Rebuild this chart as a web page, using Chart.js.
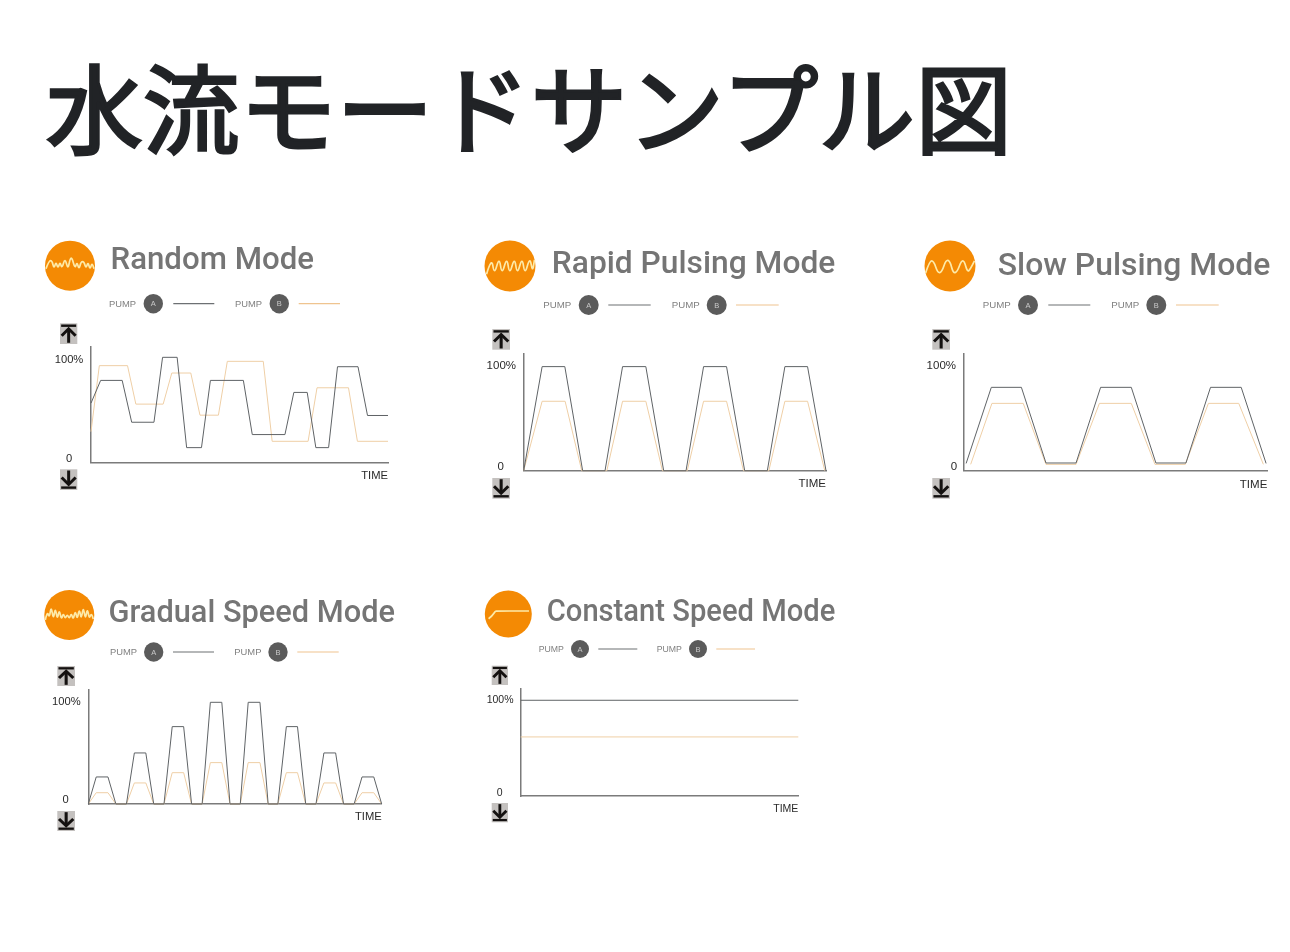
<!DOCTYPE html>
<html lang="ja">
<head>
<meta charset="utf-8">
<title>水流モードサンプル図</title>
<script src="https://cdn.jsdelivr.net/npm/chart.js@4/dist/chart.umd.min.js"></script>
<style>
html, body { margin: 0; padding: 0; background: #fff; }
body { position: relative; width: 1290px; height: 952px; overflow: hidden; }
canvas { position: absolute; }
#overlay { position: absolute; left: 0; top: 0; will-change: transform; }
</style>
</head>
<body>
<svg id="overlay" width="1290" height="952" xmlns="http://www.w3.org/2000/svg"></svg>
<script>
// values: time in % of the axis, output in %
const pageTitle = '水流モードサンプル図';
const modeNames = ['Random Mode', 'Rapid Pulsing Mode', 'Slow Pulsing Mode', 'Gradual Speed Mode', 'Constant Speed Mode'];
const pumpNames = ['PUMP A', 'PUMP B'];
const yTickValues = [0, 100];
const yTickLabels = ['0', '100%'];
const xAxisLabel = 'TIME';

const randomTimeA = [0, 3.25, 10.5, 13.7, 21.2, 24.1, 29, 32.2, 37.2, 40.2, 51.3, 54.3, 65.3, 68.3, 72.8, 75.7, 80, 83, 89.9, 93.1, 100];
const randomA = [56.5, 78.1, 78.1, 38.4, 38.4, 100, 100, 14.3, 14.3, 78.1, 78.1, 26.7, 26.7, 66.7, 66.7, 14.3, 14.3, 91.1, 91.1, 44.8, 44.8];
const randomTimeB = [0, 2.8, 12.3, 15.1, 24.3, 27.2, 33.6, 36.7, 42.9, 45.9, 58, 61, 73.1, 76.1, 86.7, 89.7, 100];
const randomB = [29.5, 92.1, 92.1, 55.6, 55.6, 85.1, 85.1, 45.1, 45.1, 96.2, 96.2, 20.3, 20.3, 71.1, 71.1, 20.3, 20.3];

const rapidTimeA = [0, 6.1, 13.6, 19.5, 26.9, 32.7, 40.4, 46.3, 53.7, 59.5, 67.1, 73.1, 80.6, 86.4, 93.9, 100];
const rapidA = [0, 100, 100, 0, 0, 100, 100, 0, 0, 100, 100, 0, 0, 100, 100, 0];
const rapidTimeB = [0, 6.1, 13.7, 19.2, 27.5, 32.7, 40.4, 45.9, 54.1, 59.5, 67.1, 72.7, 81.1, 86.4, 93.9, 99.6];
const rapidB = [0, 66.7, 66.7, 0, 0, 66.7, 66.7, 0, 0, 66.7, 66.7, 0, 0, 66.7, 66.7, 0];

const slowTimeA = [0.8, 9.1, 19, 27.1, 37, 45.1, 55.2, 63.3, 73.2, 81.3, 91.4, 99.6];
const slowA = [7, 80.1, 80.1, 7.4, 7.4, 80.1, 80.1, 7.4, 7.4, 80.1, 80.1, 7];
const slowTimeB = [2.3, 9.3, 19.6, 27.1, 37, 44.7, 55.2, 63, 73, 80.6, 90.6, 98.7];
const slowB = [6.1, 64.7, 64.7, 6.1, 6.1, 64.7, 64.7, 6.1, 6.1, 64.7, 64.7, 6.1];

const gradualTime = [0, 2.7, 6.7, 9.4, 13, 15.7, 19.6, 22.3, 25.8, 28.6, 32.5, 35.2, 38.8, 41.6, 45.5, 48.3, 51.8, 54.5, 58.5, 61.3, 64.6, 67.5, 71.3, 74.1, 77.6, 80.3, 84.3, 87, 90.6, 93.3, 97.3, 100];
const gradualA = [0, 26.6, 26.6, 0, 0, 50.2, 50.2, 0, 0, 76.1, 76.1, 0, 0, 100, 100, 0, 0, 100, 100, 0, 0, 76.1, 76.1, 0, 0, 50.2, 50.2, 0, 0, 26.6, 26.6, 0];
const gradualB = [0, 11.1, 11.1, 0, 0, 20.7, 20.7, 0, 0, 30.8, 30.8, 0, 0, 40.7, 40.7, 0, 0, 40.7, 40.7, 0, 0, 30.8, 30.8, 0, 0, 20.7, 20.7, 0, 0, 11.1, 11.1, 0];

const constantTime = [0, 100];
const constantA = [100, 100];
const constantB = [61.7, 61.7];

const colorA = '#5f6366';
const colorB = '#efcfa6';
const axisColor = '#7b7b7b';

// page layout of each panel, in px
const layouts = [
  { left: 91, right: 388, top: 347, bottom: 462.7, yMax: 109.8, font: 11.2, hundredY: 360, zero: [69, 458.7], timeY: 475.5, hundredX: 83.3,
    icon: [70, 265.7, 25], title: [110.5, 269, 203.5], legendY: 303.7, r: 9.7, legend: [[109, 153.3, 173.3, 214.3], [235, 279.3, 298.7, 340]],
    arrowX: 60, arrowW: 17.3, arrowH: 20.7, arrowUp: 323.3, arrowDown: 469.3 },
  { left: 523.7, right: 826, top: 353.3, bottom: 470.7, yMax: 112.8, font: 11.5, hundredY: 366, zero: [500.7, 466.7], timeY: 483.8, hundredX: 516,
    icon: [510, 266, 25.5], title: [551.8, 272.5, 283.5], legendY: 305, r: 10, legend: [[543.3, 588.7, 608.3, 650.7], [671.7, 716.7, 736, 778.7]],
    arrowX: 492.3, arrowW: 17.7, arrowH: 20.7, arrowUp: 329, arrowDown: 478 },
  { left: 963.7, right: 1267.3, top: 353.3, bottom: 470.7, yMax: 112.8, font: 11.5, hundredY: 366, zero: [954, 466.7], timeY: 484.5, hundredX: 956,
    icon: [950, 266, 25.5], title: [997.8, 275, 272.5], legendY: 305, r: 10, legend: [[982.7, 1028, 1048.3, 1090.3], [1111.3, 1156.3, 1176, 1218.7]],
    arrowX: 932.3, arrowW: 17.7, arrowH: 20.7, arrowUp: 329, arrowDown: 478 },
  { left: 88.3, right: 381.7, top: 690, bottom: 804, yMax: 112.1, font: 11.2, hundredY: 701.7, zero: [65.7, 800], timeY: 816.5, hundredX: 80.7,
    icon: [69.3, 615, 25], title: [108.5, 621.5, 286.5], legendY: 652, r: 9.7, legend: [[110, 153.7, 173, 214], [234.3, 278, 297.3, 338.7]],
    arrowX: 57.3, arrowW: 17.7, arrowH: 20, arrowUp: 666, arrowDown: 811 },
  { left: 520.7, right: 798.3, top: 688.3, bottom: 796, yMax: 112.5, font: 10.5, hundredY: 700, zero: [499.7, 792.8], timeY: 808.8, hundredX: 513.5,
    icon: [508.3, 614, 23.5], title: [546.8, 620.5, 288.5], legendY: 649, r: 9, legend: [[538.7, 580, 598.3, 637.3], [656.7, 698, 716.3, 755]],
    arrowX: 491.7, arrowW: 16.3, arrowH: 19.3, arrowUp: 665.7, arrowDown: 803 }
];

const seriesByPanel = [
  [randomTimeA, randomA, randomTimeB, randomB],
  [rapidTimeA, rapidA, rapidTimeB, rapidB],
  [slowTimeA, slowA, slowTimeB, slowB],
  [gradualTime, gradualA, gradualTime, gradualB],
  [constantTime, constantA, constantTime, constantB]
];

// little wave on each orange badge, relative to the centre of a 25px circle
const badgeWaves = [
  [[-24,3],[-21,-5],[-18,-5],[-16,3],[-14,-4],[-12,3],[-10,-4],[-8,3],[-5,-8],[-2,4],[0,-7],[2,-8],[5,3],[7,-4],[9,4],[11,-4],[14,-4],[16,3],[18,-4],[20,4],[22,-3],[24,3]],
  [[-23,8],[-18,-9],[-15.5,9],[-10.5,-9],[-8,9],[-3,-9],[-0.5,9],[4.5,-9],[7,9],[12,-9],[14.5,9],[19.5,-9],[22,6],[24,-6]],
  [[-24,7],[-20,-5],[-16,-5],[-12,7],[-8,6],[-4,-6],[0,-5],[3,7],[7,6],[11,-5],[14,-5],[17,6],[20,3],[24,-5]],
  [[-24,5],[-22,-4],[-20,3],[-18,-9],[-16,5],[-14,-8],[-12,5],[-10,-6],[-8,5],[-6,-2],[-4,4],[-2,-1],[0,4],[2,-2],[4,5],[6,-5],[8,5],[10,-7],[12,5],[14,-9],[16,5],[18,-7],[20,4],[22,-2],[24,4]],
  [[-21,5],[-17,2],[-14,-3],[-12,-3.2],[22,-3.2]]
];

const svg = document.getElementById('overlay');
const NS = 'http://www.w3.org/2000/svg';
function add(tag, attrs, text) {
  const el = document.createElementNS(NS, tag);
  for (const k in attrs) el.setAttribute(k, attrs[k]);
  if (text) el.textContent = text;
  svg.appendChild(el);
  return el;
}

function smoothPath(pts, scale) {
  const p = pts.map(q => [q[0] * scale, q[1] * scale]);
  let d = 'M' + p[0][0] + ' ' + p[0][1];
  for (let i = 1; i < p.length - 1; i++) {
    const mx = (p[i][0] + p[i + 1][0]) / 2, my = (p[i][1] + p[i + 1][1]) / 2;
    d += ' Q' + p[i][0] + ' ' + p[i][1] + ' ' + mx + ' ' + my;
  }
  const last = p[p.length - 1];
  return d + ' L' + last[0] + ' ' + last[1];
}

function drawArrow(x, y, w, h, up) {
  add('rect', { x: x, y: y, width: w, height: h, fill: '#c4c1bf' });
  const cx = x + w / 2;
  const sx = w / 17.3, sy = h / 20.7;
  const g = add('g', { transform: 'translate(' + cx + ' ' + y + ') scale(' + sx + ' ' + sy + ')' + (up ? '' : ' translate(0 20.7) scale(1 -1)'),
    fill: 'none', stroke: '#141110', 'stroke-width': 3 });
  g.innerHTML = '<path d="M-7.5 2.4 H7.5" stroke-width="2.4"/><path d="M0 19.5 V6"/><path d="M-7 12.5 L0 5.5 L7 12.5"/>';
}

// title: regular weight with a stroke, bold is heavier than the original
add('text', { x: 46, y: 146, 'font-family': '"Noto Sans CJK JP"', 'font-size': 96.5, 'font-weight': 400, fill: '#212326',
  stroke: '#212326', 'stroke-width': 3, textLength: 966, lengthAdjust: 'spacing' }, pageTitle);

layouts.forEach((L, i) => {
  add('circle', { cx: L.icon[0], cy: L.icon[1], r: L.icon[2], fill: '#f48a04' });
  add('path', { d: smoothPath(badgeWaves[i], L.icon[2] / 25), transform: 'translate(' + L.icon[0] + ' ' + L.icon[1] + ')',
    fill: 'none', stroke: '#fdeaa8', 'stroke-width': 1.7 });
  add('text', { x: L.title[0], y: L.title[1], 'font-family': 'Roboto', 'font-weight': 500, 'font-size': 32, fill: '#757575',
    textLength: L.title[2], lengthAdjust: 'spacingAndGlyphs' }, modeNames[i]);

  L.legend.forEach((item, k) => {
    const parts = pumpNames[k].split(' ');
    add('text', { x: item[0], y: L.legendY + 3.4, 'font-family': '"Liberation Sans"', 'font-size': 9.4 * L.r / 9.7, fill: '#808080' }, parts[0]);
    add('circle', { cx: item[1], cy: L.legendY, r: L.r, fill: '#5b5b5b' });
    add('text', { x: item[1], y: L.legendY + 2.7, 'text-anchor': 'middle', 'font-family': '"Liberation Sans"', 'font-size': 7.5, fill: '#c9c9c9' }, parts[1]);
    add('line', { x1: item[2], x2: item[3], y1: L.legendY, y2: L.legendY, stroke: k ? '#efc48f' : '#6d7073', 'stroke-width': 1.2 });
  });

  drawArrow(L.arrowX, L.arrowUp, L.arrowW, L.arrowH, true);
  drawArrow(L.arrowX, L.arrowDown, L.arrowW, L.arrowH, false);
});

// axis words: tick positions come from the y scale, offsets only nudge the label
const axisWords = {
  id: 'axisWords',
  afterDraw(chart, args, opts) {
    const L = opts.layout, ctx = chart.ctx, box = chart.canvas.getBoundingClientRect();
    const y = chart.scales.y, x = chart.scales.x;
    ctx.save();
    ctx.fillStyle = '#2a2a2a';
    ctx.font = L.font + 'px "Liberation Sans"';
    ctx.textBaseline = 'middle';
    ctx.textAlign = 'right';
    ctx.fillText(yTickLabels[1], L.hundredX - box.left, y.getPixelForValue(yTickValues[1]) + (L.hundredY - (L.bottom - (L.bottom - L.top) * 100 / L.yMax)));
    ctx.textAlign = 'center';
    ctx.fillText(yTickLabels[0], L.zero[0] - box.left, y.getPixelForValue(yTickValues[0]) + (L.zero[1] - L.bottom));
    ctx.textAlign = 'right';
    ctx.fillText(xAxisLabel, x.right, L.timeY - box.top);
    ctx.restore();
  }
};

layouts.forEach((L, i) => {
  const [timeA, valuesA, timeB, valuesB] = seriesByPanel[i];
  const cv = document.createElement('canvas');
  // whole-pixel canvas round the panel, padding carries the fraction so the plot lands on L
  const cl = Math.floor(L.left) - 50, ct = Math.floor(L.top) - 10;
  const w = Math.ceil(L.right) + 10 - cl, h = Math.ceil(L.bottom) + 25 - ct;
  cv.style.left = cl + 'px';
  cv.style.top = ct + 'px';
  cv.style.width = w + 'px';
  cv.style.height = h + 'px';
  cv.width = w;
  cv.height = h;
  document.body.appendChild(cv);

  new Chart(cv, {
    type: 'line',
    data: {
      datasets: [
        { label: pumpNames[0], data: timeA.map((t, k) => ({ x: t, y: valuesA[k] })), borderColor: colorA, borderWidth: 1, pointRadius: 0, tension: 0, clip: false },
        { label: pumpNames[1], data: timeB.map((t, k) => ({ x: t, y: valuesB[k] })), borderColor: colorB, borderWidth: 1, pointRadius: 0, tension: 0, clip: false }
      ]
    },
    options: {
      responsive: false,
      animation: false,
      devicePixelRatio: 1,
      layout: { padding: { left: L.left - cl, right: cl + w - L.right, top: L.top - ct, bottom: ct + h - L.bottom } },
      plugins: { legend: { display: false }, tooltip: { enabled: false }, axisWords: { layout: L } },
      scales: {
        x: { type: 'linear', min: 0, max: 100, grid: { display: false, drawTicks: false }, ticks: { display: false }, border: { color: axisColor, width: 1.5 } },
        y: { type: 'linear', min: 0, max: L.yMax, grid: { display: false, drawTicks: false }, ticks: { display: false }, border: { color: axisColor, width: 1.5 } }
      }
    },
    plugins: [axisWords]
  });
});
</script>
</body>
</html>
